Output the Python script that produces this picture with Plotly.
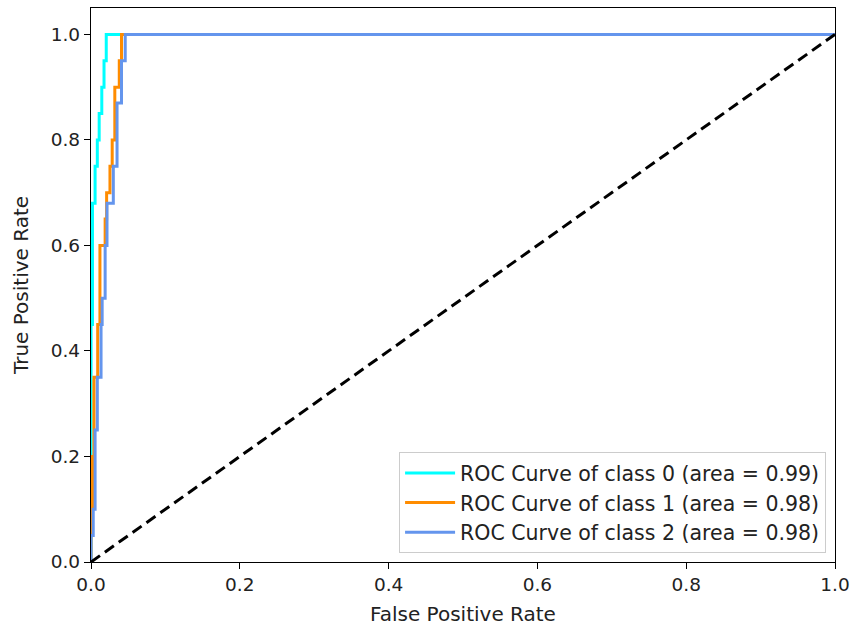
import plotly.graph_objects as go

# ROC corner points (used with horizontal-then-vertical steps)
fpr_class0 = [0.0, 0.0, 0.002, 0.0055, 0.0085, 0.011, 0.0145, 0.0175, 0.0205, 1.0]
tpr_class0 = [0.0, 0.45, 0.68, 0.75, 0.80, 0.85, 0.90, 0.95, 1.0, 1.0]

fpr_class1 = [0.0, 0.0, 0.002, 0.004, 0.009, 0.012, 0.019, 0.021, 0.0255, 0.0285, 0.032, 0.038, 0.041, 1.0]
tpr_class1 = [0.0, 0.10, 0.20, 0.35, 0.45, 0.60, 0.65, 0.70, 0.75, 0.80, 0.90, 0.95, 1.0, 1.0]

fpr_class2 = [0.0, 0.0, 0.003, 0.0055, 0.0085, 0.0135, 0.015, 0.019, 0.0215, 0.030, 0.035, 0.041, 0.046, 1.0]
tpr_class2 = [0.0, 0.05, 0.10, 0.25, 0.35, 0.45, 0.50, 0.60, 0.68, 0.75, 0.87, 0.95, 1.0, 1.0]

areas = [0.99, 0.98, 0.98]
colors = ["#00FFFF", "#FF8C00", "#6495ED"]
chance_x = [0.0, 1.0]
chance_y = [0.0, 1.0]
tick_vals = [0.0, 0.2, 0.4, 0.6, 0.8, 1.0]
tick_text = ["0.0", "0.2", "0.4", "0.6", "0.8", "1.0"]

FONT = "DejaVu Sans"

fig = go.Figure()
series = [(fpr_class0, tpr_class0), (fpr_class1, tpr_class1), (fpr_class2, tpr_class2)]
for i, (fx, ty) in enumerate(series):
    fig.add_trace(go.Scatter(
        x=fx, y=ty, mode="lines", line_shape="hv",
        line=dict(color=colors[i], width=3),
        name=f"ROC Curve of class {i} (area = {areas[i]:.2f})",
    ))

fig.add_trace(go.Scatter(
    x=chance_x, y=chance_y, mode="lines",
    line=dict(color="black", width=3, dash="11px,6px"),
    showlegend=False,
))

axis_common = dict(
    showline=True, linecolor="black", linewidth=1.3, mirror=True,
    ticks="outside", ticklen=6, tickwidth=1.3, tickcolor="black",
    showgrid=False, zeroline=False, automargin=False,
    tickvals=tick_vals, ticktext=tick_text,
    tickfont=dict(family=FONT, size=18.5, color="#222222"),
)

fig.update_layout(
    width=854, height=628,
    margin=dict(l=91, r=19, t=8, b=66),
    paper_bgcolor="white", plot_bgcolor="white",
    font=dict(family=FONT, size=20, color="#222222"),
    xaxis=dict(range=[0, 1.0], title=dict(text="False Positive Rate", font=dict(family=FONT, size=20), standoff=12), **axis_common),
    yaxis=dict(range=[0, 1.05], title=dict(text="True Positive Rate", font=dict(family=FONT, size=20), standoff=16), **axis_common),
    legend=dict(
        x=0.988, y=0.016, xanchor="right", yanchor="bottom",
        bgcolor="rgba(255,255,255,0.8)", bordercolor="#cccccc", borderwidth=1,
        font=dict(family=FONT, size=20.5, color="#222222"),
        itemwidth=50,
    ),
)

fig.write_html("out.html")
